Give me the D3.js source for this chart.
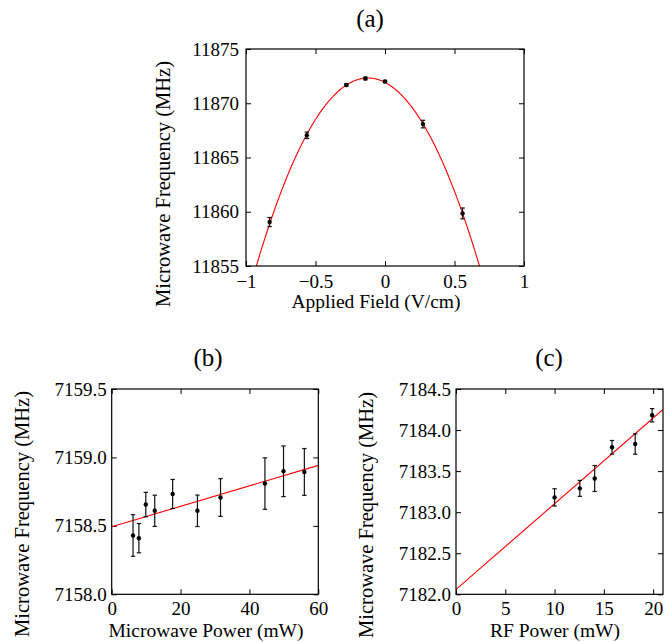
<!DOCTYPE html>
<html><head><meta charset="utf-8">
<script src="https://cdn.jsdelivr.net/npm/d3@7"></script>
</head>
<body style="margin:0;background:#fff">
<svg id="chart" width="671" height="642" style="font-family:'Liberation Serif'"></svg>
<script>
// ---- Panel (a) data ----
const fieldA = [-0.83, -0.562, -0.278, -0.141, 0.0, 0.273, 0.558];
const freqA = [11859.05, 11867.05, 11871.68, 11872.28, 11872.0, 11868.08, 11859.85];
const errA = [0.42, 0.3, 0.1, 0.12, 0.1, 0.35, 0.5];
const fitA = [11872.33, -0.123, 26.9]; // peak value, peak field, curvature
const xTicksA = [-1, -0.5, 0, 0.5, 1];
const yTicksA = [11855, 11860, 11865, 11870, 11875];

// ---- Panel (b) data ----
const powerB = [6.2, 7.9, 9.9, 12.5, 17.7, 24.9, 31.6, 44.5, 49.9, 55.95];
const freqB = [7158.43, 7158.41, 7158.656, 7158.61, 7158.733, 7158.61, 7158.707, 7158.809, 7158.899, 7158.894];
const errB = [0.152, 0.107, 0.089, 0.114, 0.106, 0.115, 0.138, 0.188, 0.185, 0.171];
const lineB = [[0, 7158.493], [60, 7158.942]];
const xTicksB = [0, 20, 40, 60];
const yTicksB = [7158.0, 7158.5, 7159.0, 7159.5];

// ---- Panel (c) data ----
const powerC = [10.0, 12.56, 14.07, 15.83, 18.18, 19.9];
const freqC = [7183.18, 7183.29, 7183.41, 7183.79, 7183.83, 7184.18];
const errC = [0.105, 0.097, 0.158, 0.083, 0.124, 0.081];
const lineC = [[0, 7182.06], [21, 7184.25]];
const xTicksC = [0, 5, 10, 15, 20];
const yTicksC = [7182.0, 7182.5, 7183.0, 7183.5, 7184.0, 7184.5];

const svg = d3.select("#chart");
const fmtMinus = d => d < 0 ? "\u2212" + Math.abs(d) : String(d);
const FONT = "'Liberation Serif'";

function panel(cfg) {
  const x = d3.scaleLinear().domain(cfg.xDomain).range([cfg.left, cfg.right]);
  const y = d3.scaleLinear().domain(cfg.yDomain).range([cfg.bottom, cfg.top]);
  const g = svg.append("g");
  const clipId = "clip" + cfg.id;
  g.append("clipPath").attr("id", clipId).append("rect")
    .attr("x", cfg.left).attr("y", cfg.top)
    .attr("width", cfg.right - cfg.left).attr("height", cfg.bottom - cfg.top);

  const tl = 5;
  const styleText = s => s.selectAll("text").attr("fill", "#000")
    .attr("style", `font-family:${FONT};font-size:${cfg.fs}px`);
  g.append("g").attr("transform", `translate(0,${cfg.bottom})`)
    .call(d3.axisBottom(x).tickValues(cfg.xTicks).tickSize(-tl).tickPadding(cfg.xPad).tickFormat(cfg.xFmt))
    .call(s => { s.select(".domain").remove(); s.attr("font-family", null); styleText(s); });
  g.append("g").attr("transform", `translate(0,${cfg.top})`)
    .call(d3.axisTop(x).tickValues(cfg.xTicks).tickSize(-tl).tickFormat(""))
    .call(s => s.select(".domain").remove());
  g.append("g").attr("transform", `translate(${cfg.left},0)`)
    .call(d3.axisLeft(y).tickValues(cfg.yTicks).tickSize(-tl).tickPadding(cfg.yPad).tickFormat(cfg.yFmt))
    .call(s => { s.select(".domain").remove(); s.attr("font-family", null); styleText(s); });
  g.append("g").attr("transform", `translate(${cfg.right},0)`)
    .call(d3.axisRight(y).tickValues(cfg.yTicks).tickSize(-tl).tickFormat(""))
    .call(s => s.select(".domain").remove());
  g.selectAll(".tick line").attr("stroke", "#000").attr("stroke-width", 1);

  const plot = g.append("g").attr("clip-path", `url(#${clipId})`);
  plot.append("path").datum(cfg.fit)
    .attr("fill", "none").attr("stroke", "#ff0000").attr("stroke-width", 1.1)
    .attr("d", d3.line().x(d => x(d[0])).y(d => y(d[1])));

  const pts = cfg.xs.map((v, i) => ({x: v, y: cfg.ys[i], e: cfg.es[i]}));
  const eb = g.append("g").attr("stroke", "#111").attr("stroke-width", 1.2);
  pts.forEach(p => {
    eb.append("line").attr("x1", x(p.x)).attr("x2", x(p.x)).attr("y1", y(p.y - p.e)).attr("y2", y(p.y + p.e));
    [p.y - p.e, p.y + p.e].forEach(v =>
      eb.append("line").attr("x1", x(p.x) - 2.2).attr("x2", x(p.x) + 2.2).attr("y1", y(v)).attr("y2", y(v)));
  });
  g.append("g").selectAll("circle").data(pts).join("circle")
    .attr("cx", d => x(d.x)).attr("cy", d => y(d.y)).attr("r", 2.2).attr("fill", "#000");

  g.append("rect").attr("x", cfg.left).attr("y", cfg.top)
    .attr("width", cfg.right - cfg.left).attr("height", cfg.bottom - cfg.top)
    .attr("fill", "none").attr("stroke", "#000").attr("stroke-width", 1.2);

  g.append("text").attr("x", cfg.titleX).attr("y", cfg.titleY).attr("text-anchor", "middle")
    .attr("style", `font-family:${FONT};font-size:25px`).text(cfg.title);
  g.append("text").attr("x", cfg.xlabX).attr("y", cfg.xlabY).attr("text-anchor", "middle")
    .attr("style", `font-family:${FONT};font-size:19.5px`).text(cfg.xlab);
  g.append("text").attr("transform", `translate(${cfg.ylabX},${cfg.ylabY}) rotate(-90)`)
    .attr("text-anchor", "middle")
    .attr("style", `font-family:${FONT};font-size:20.5px`).text("Microwave Frequency (MHz)");
}

const curveA = d3.range(-1, 1.0001, 0.01).map(v => [v, fitA[0] - fitA[2] * (v - fitA[1]) ** 2]);

panel({id: "a", left: 246, right: 524, top: 49, bottom: 266,
  xDomain: [-1, 1], yDomain: [11855, 11875], xTicks: xTicksA, yTicks: yTicksA,
  xFmt: fmtMinus, yFmt: d3.format("d"), fs: 19, xPad: 9, yPad: 7,
  xs: fieldA, ys: freqA, es: errA, fit: curveA,
  title: "(a)", titleX: 370, titleY: 27,
  xlab: "Applied Field (V/cm)", xlabX: 376, xlabY: 308, ylabX: 170, ylabY: 184});

panel({id: "b", left: 111.7, right: 318.3, top: 389, bottom: 594.3,
  xDomain: [0, 60], yDomain: [7158.0, 7159.5], xTicks: xTicksB, yTicks: yTicksB,
  xFmt: d3.format("d"), yFmt: d3.format(".1f"), fs: 19, xPad: 7, yPad: 5,
  xs: powerB, ys: freqB, es: errB, fit: lineB,
  title: "(b)", titleX: 208, titleY: 366,
  xlab: "Microwave Power (mW)", xlabX: 206, xlabY: 636.5, ylabX: 29, ylabY: 514});

panel({id: "c", left: 456, right: 663, top: 389, bottom: 594.3,
  xDomain: [0, 21], yDomain: [7182.0, 7184.5], xTicks: xTicksC, yTicks: yTicksC,
  xFmt: d3.format("d"), yFmt: d3.format(".1f"), fs: 19, xPad: 7, yPad: 5,
  xs: powerC, ys: freqC, es: errC, fit: lineC,
  title: "(c)", titleX: 549, titleY: 366,
  xlab: "RF Power (mW)", xlabX: 555, xlabY: 636.5, ylabX: 373, ylabY: 515});
</script>
</body></html>
